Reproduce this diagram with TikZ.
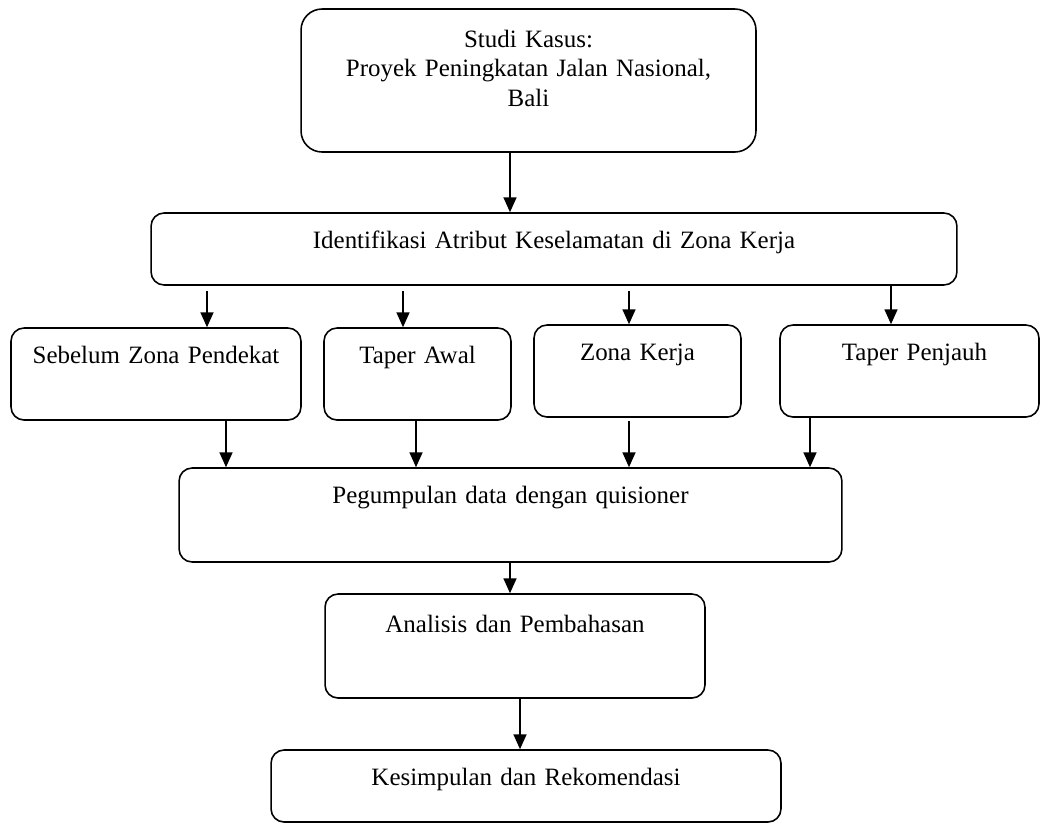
\documentclass[tikz,border=0pt]{standalone}
\usepackage{fontspec}
\setmainfont{Liberation Serif}
\usetikzlibrary{arrows.meta}

\tikzset{
  box/.style={draw, rounded corners=0.26cm, line width=0.9pt, inner sep=0pt,
    align=center, text height=0.70cm, font=\fontsize{14.2}{16.8}\selectfont},
  flow/.style={-{Triangle[length=8.5pt,width=7.4pt]}, line width=0.9pt}
}

\begin{document}
\begin{tikzpicture}[x=0.02cm, y=-0.02cm]
  \useasboundingbox (0,0) rectangle (1041,823);

  % boxes
  \node[box, rounded corners=0.42cm, text width=9.10cm, text height=0.76cm, text depth=2.10cm] (studi) at (528.5,80.5)
    {Studi Kasus:\\Proyek Peningkatan Jalan Nasional,\\Bali};
  \node[box, text width=16.12cm, text depth=0.74cm] (ident) at (554,249)
    {Identifikasi Atribut Keselamatan di Zona Kerja};
  \node[box, text width=5.80cm, text depth=1.14cm] (sebelum) at (156,374) {Sebelum Zona Pendekat};
  \node[box, text width=3.74cm, text depth=1.14cm] (taperawal) at (417.5,374) {Taper Awal};
  \node[box, text width=4.14cm, text depth=1.14cm] (zonakerja) at (637.5,371) {Zona Kerja};
  \node[box, text width=5.18cm, text depth=1.14cm] (taperjauh) at (909.5,371) {\hspace*{0.2cm}Taper Penjauh};
  \node[box, text width=13.26cm, text depth=1.18cm] (kuesioner) at (510.5,515)
    {Pegumpulan data dengan quisioner};
  \node[box, text width=7.60cm, text height=0.76cm, text depth=1.32cm] (analisis) at (515,646)
    {Analisis dan Pembahasan};
  \node[box, text width=10.20cm, text depth=0.74cm] (kesimpulan) at (526,786)
    {Kesimpulan dan Rekomendasi};

  % arrows
  \draw[flow] (studi.south -| 510,0) -- (ident.north -| 510,0);
  \draw[flow, shorten <=3pt] (ident.south -| 207,0) -- (sebelum.north -| 207,0);
  \draw[flow, shorten <=3pt] (ident.south -| 403,0) -- (taperawal.north -| 403,0);
  \draw[flow, shorten <=3pt] (ident.south -| 629,0) -- (zonakerja.north -| 629,0);
  \draw[flow] (ident.south -| 891,0) -- (taperjauh.north -| 891,0);
  \draw[flow] (sebelum.south -| 226,0) -- (kuesioner.north -| 226,0);
  \draw[flow] (taperawal.south -| 416,0) -- (kuesioner.north -| 416,0);
  \draw[flow, shorten <=2pt] (zonakerja.south -| 629,0) -- (kuesioner.north -| 629,0);
  \draw[flow] (taperjauh.south -| 810,0) -- (kuesioner.north -| 810,0);
  \draw[flow] (kuesioner.south -| 510,0) -- (analisis.north -| 510,0);
  \draw[flow] (analisis.south -| 520,0) -- (kesimpulan.north -| 520,0);
\end{tikzpicture}
\end{document}
